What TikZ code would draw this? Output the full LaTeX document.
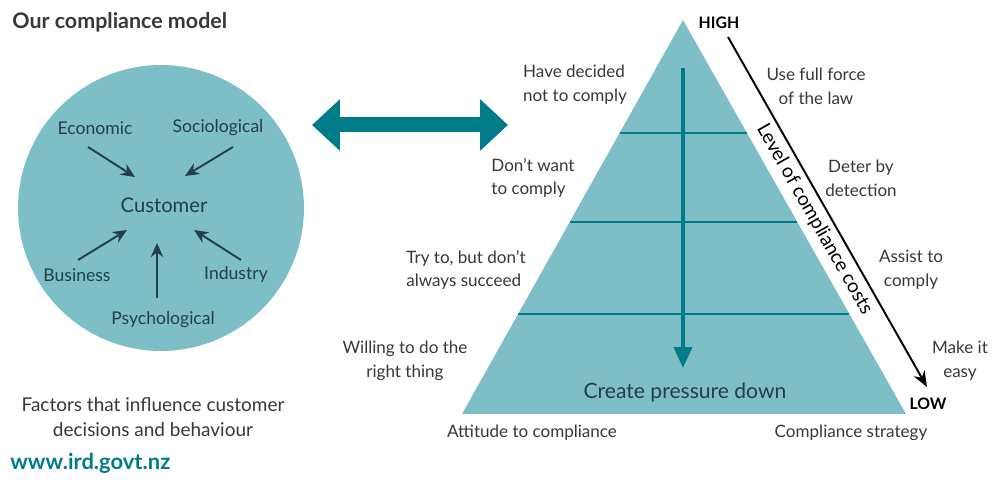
\documentclass[tikz,border=0pt]{standalone}
\usepackage{fontspec}
\setmainfont{Lato}
\usetikzlibrary{arrows.meta, positioning, calc}
\definecolor{modelfill}{RGB}{126,190,199}
\definecolor{modelteal}{RGB}{0,124,137}
\definecolor{textgray}{RGB}{55,55,60}
\definecolor{factorink}{RGB}{35,62,75}

\begin{document}
\begin{tikzpicture}[x=0.02cm, y=-0.02cm,
    label/.style={font=\fontsize{9.7}{13.5}\selectfont, text=textgray, inner sep=0pt},
    factor/.style={font=\fontsize{10}{12}\selectfont, text=factorink, inner sep=0pt},
    push/.style={-{Stealth[length=8pt, width=7pt]}, line width=1.1pt, factorink},
    tier/.style={modelteal, line width=1.1pt}]

    \useasboundingbox (0,0) rectangle (992,496);

    % Title and web address
    \node[anchor=west, font=\fontsize{12.2}{14}\selectfont\bfseries, text=textgray, inner sep=0pt] (title) at (12,22) {Our compliance model};
    \node[anchor=west, font=\fontsize{12.5}{14}\selectfont\bfseries, text=modelteal, inner sep=0pt] (web) at (10,463) {www.ird.govt.nz};

    % Draw the circle of factors
    \node[circle, fill=modelfill, minimum size=5.72cm, inner sep=0pt] (factors) at (161,208) {};
    \node[factor, font=\fontsize{11.5}{14}\selectfont] (cust) at (164,205) {Customer};
    \node[factor] (econ) at (95,128) {Economic};
    \node[factor] (soc) at (218,128) {Sociological};
    \node[factor] (bus) at (77,275) {Business};
    \node[factor] (ind) at (236,275) {Industry};
    \node[factor] (psy) at (163,320) {Psychological};

    \draw[push] ($(econ)+(-7,19)$) -- ($(cust)+(-29,-28)$);
    \draw[push] ($(soc)+(15,19)$) -- ($(cust)+(21,-29)$);
    \draw[push] ($(bus)+(1,-15)$) -- ($(cust)+(-37,25)$);
    \draw[push] ($(ind)+(5,-15)$) -- ($(cust)+(30,25)$);
    \draw[push] ($(psy)+(-6,-22)$) -- ($(cust)+(-7,38)$);

    \node[label, font=\fontsize{10.8}{14}\selectfont, align=center] (influence) at (153,417) {Factors that influence customer\\decisions and behaviour};

    % Link between the two halves
    \coordinate (linkL) at (312,125);
    \coordinate (linkR) at (508,125);
    \draw[modelteal, line width=0.3cm, {Triangle[length=0.56cm, width=1cm]}-{Triangle[length=0.56cm, width=1cm]}] (linkL) -- (linkR);

    % Draw the pyramid
    \coordinate (apex) at (683,20);
    \coordinate (baseL) at (462,414);
    \coordinate (baseR) at (906,414);
    \fill[modelfill] (apex) -- (baseR) -- (baseL) -- cycle;
    \foreach \f in {0.287, 0.513, 0.746}
        \draw[tier] ($(apex)!\f!(baseL)$) -- ($(apex)!\f!(baseR)$);

    \node[factor, font=\fontsize{12}{14}\selectfont] (pressure) at (685,393) {Create pressure down};
    \coordinate (pushtop) at (683,68);
    \draw[modelteal, line width=2.2pt, -{Triangle[length=0.42cm, width=0.36cm]}] (pushtop) -- ($(pressure)+(-2,-25)$);

    % Attitudes on the left
    \node[label, align=left] (decided) at (575,85) {Have decided\\not to comply};
    \node[label, align=left] (dontwant) at (533,178) {Don't want\\to comply};
    \node[label, align=left] (tryto) at (466,270) {Try to, but don't\\always succeed};
    \node[label, align=center] (willing) at (405,361) {Willing to do the\\right thing};
    \node[label] (attitude) at (532,433) {Attitude to compliance};

    % Strategies on the right
    \node[label, align=center] (force) at (816,86) {Use full force\\of the law};
    \node[label, align=center] (deter) at (861,178) {Deter by\\detection};
    \node[label, align=center] (assist) at (911,270) {Assist to\\comply};
    \node[label, align=center] (easy) at (960,361) {Make it\\easy};
    \node[label] (strategy) at (851,433) {Compliance strategy};

    % Level of compliance costs
    \node[font=\fontsize{9}{11}\selectfont\bfseries, text=black, inner sep=0pt] (high) at (719,23) {HIGH};
    \node[font=\fontsize{9}{11}\selectfont\bfseries, text=black, inner sep=0pt] (low) at (928,404) {LOW};
    \draw[line width=1.1pt, -{Stealth[length=9pt, width=7pt]}] ($(high)+(9,14)$) -- ($(low)+(-1,-17)$)
        node[pos=0.5, sloped, below, font=\fontsize{11}{13}\selectfont, text=black, inner sep=3pt] {Level of compliance costs};
\end{tikzpicture}
\end{document}
